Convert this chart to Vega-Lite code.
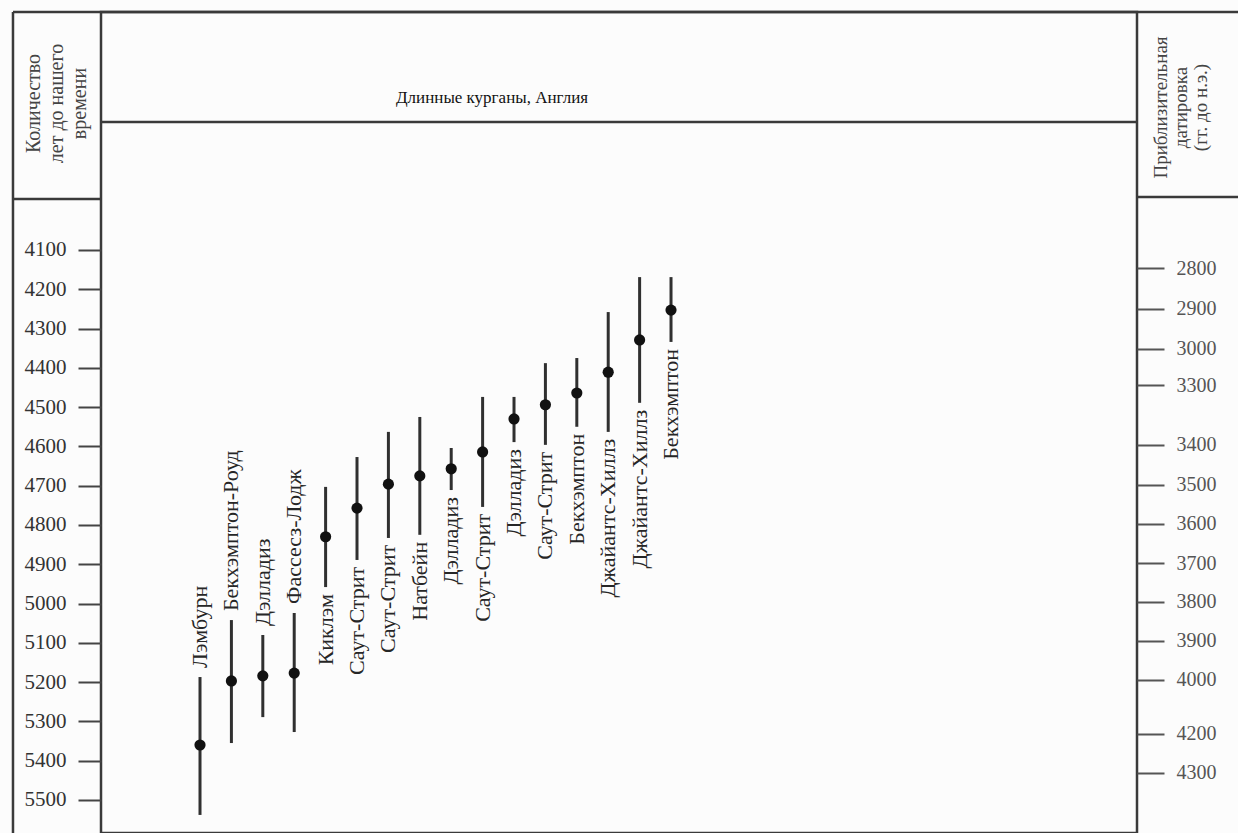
{
  "$schema": "https://vega.github.io/schema/vega-lite/v6.json",
  "width": 1036,
  "height": 821,
  "autosize": {"type": "none"},
  "padding": {"left": 101, "top": 12, "right": 101, "bottom": 0},
  "background": "#fcfcfc",
  "config": {
    "view": {"stroke": "#3a3a3a", "strokeWidth": 2.5},
    "font": "Liberation Serif"
  },
  "datasets": {
    "barrows": [
      {"order": 1, "name": "Лэмбурн", "lo": 5187, "est": 5360, "hi": 5538},
      {"order": 2, "name": "Бекхэмптон-Роуд", "lo": 5042, "est": 5197, "hi": 5355},
      {"order": 3, "name": "Дэлладиз", "lo": 5080, "est": 5184, "hi": 5289},
      {"order": 4, "name": "Фассесз-Лодж", "lo": 5024, "est": 5177, "hi": 5327},
      {"order": 5, "name": "Киклэм", "lo": 4703, "est": 4830, "hi": 4958},
      {"order": 6, "name": "Саут-Стрит", "lo": 4627, "est": 4757, "hi": 4889},
      {"order": 7, "name": "Саут-Стрит", "lo": 4563, "est": 4696, "hi": 4833},
      {"order": 8, "name": "Натбейн", "lo": 4525, "est": 4675, "hi": 4825},
      {"order": 9, "name": "Дэлладиз", "lo": 4604, "est": 4657, "hi": 4711},
      {"order": 10, "name": "Саут-Стрит", "lo": 4474, "est": 4614, "hi": 4754},
      {"order": 11, "name": "Дэлладиз", "lo": 4474, "est": 4530, "hi": 4589},
      {"order": 12, "name": "Саут-Стрит", "lo": 4388, "est": 4494, "hi": 4596},
      {"order": 13, "name": "Бекхэмптон", "lo": 4375, "est": 4464, "hi": 4550},
      {"order": 14, "name": "Джайантс-Хиллз", "lo": 4258, "est": 4411, "hi": 4563},
      {"order": 15, "name": "Джайантс-Хиллз", "lo": 4169, "est": 4329, "hi": 4489},
      {"order": 16, "name": "Бекхэмптон", "lo": 4169, "est": 4253, "hi": 4334}
    ],
    "one": [{}]
  },
  "data": {"name": "barrows"},
  "layer": [
    {
      "mark": {"type": "rule", "color": "#303030", "strokeWidth": 3},
      "encoding": {
        "x": {"field": "order", "type": "quantitative", "scale": {"domain": [-2.153, 30.84], "nice": false, "zero": false}, "axis": null},
        "y": {
          "field": "lo", "type": "quantitative",
          "scale": {"domain": [3494.2, 5584], "reverse": true, "nice": false, "zero": false},
          "axis": {
            "orient": "left",
            "values": [4100, 4200, 4300, 4400, 4500, 4600, 4700, 4800, 4900, 5000, 5100, 5200, 5300, 5400, 5500],
            "format": "d",
            "grid": false,
            "domain": false,
            "labelFont": "Liberation Serif",
            "labelFontSize": 21,
            "labelColor": "#333333",
            "labelPadding": 12,
            "labelOverlap": false,
            "tickSize": 23,
            "tickWidth": 2,
            "tickColor": "#444444",
            "title": ["Количество", "лет до нашего", "времени"],
            "titleFont": "Liberation Serif",
            "titleFontSize": 20,
            "titleFontWeight": "normal",
            "titleColor": "#444444",
            "titleLineHeight": 23,
            "titleAngle": 270,
            "titleAlign": "center",
            "titleBaseline": "middle",
            "titleX": -68,
            "titleY": 91
          }
        },
        "y2": {"field": "hi"}
      }
    },
    {
      "mark": {"type": "point", "filled": true, "size": 125, "color": "#111111", "opacity": 1},
      "encoding": {
        "x": {"field": "order", "type": "quantitative", "axis": null},
        "y": {
          "field": "est", "type": "quantitative",
          "axis": {
            "orient": "right",
            "values": [4146, 4250, 4352, 4444, 4596, 4698, 4797, 4897, 4996, 5095, 5194, 5332, 5431],
            "labelExpr": "['2800','2900','3000','3300','3400','3500','3600','3700','3800','3900','4000','4200','4300'][indexof([4146,4250,4352,4444,4596,4698,4797,4897,4996,5095,5194,5332,5431], datum.value)]",
            "grid": false,
            "domain": false,
            "labelFont": "Liberation Serif",
            "labelFontSize": 20,
            "labelColor": "#555555",
            "labelPadding": 12,
            "labelOverlap": false,
            "tickSize": 27,
            "tickWidth": 2,
            "tickColor": "#555555",
            "title": ["Приблизительная", "датировка", "(гг. до н.э.)"],
            "titleFont": "Liberation Serif",
            "titleFontSize": 19,
            "titleFontWeight": "normal",
            "titleColor": "#444444",
            "titleLineHeight": 20,
            "titleAngle": 270,
            "titleAlign": "center",
            "titleBaseline": "middle",
            "titleX": 23,
            "titleY": 95
          }
        }
      }
    },
    {
      "transform": [{"filter": "datum.order <= 4"}],
      "mark": {"type": "text", "angle": 270, "align": "left", "baseline": "middle", "dx": 9, "fontSize": 22, "font": "Liberation Serif", "color": "#262626"},
      "encoding": {
        "x": {"field": "order", "type": "quantitative", "axis": null},
        "y": {"field": "lo", "type": "quantitative", "axis": null},
        "text": {"field": "name"}
      }
    },
    {
      "transform": [{"filter": "datum.order > 4"}],
      "mark": {"type": "text", "angle": 270, "align": "right", "baseline": "middle", "dx": -7, "fontSize": 22, "font": "Liberation Serif", "color": "#262626"},
      "encoding": {
        "x": {"field": "order", "type": "quantitative", "axis": null},
        "y": {"field": "hi", "type": "quantitative", "axis": null},
        "text": {"field": "name"}
      }
    },
    {
      "data": {"name": "one"},
      "mark": {"type": "text", "align": "center", "baseline": "alphabetic", "fontSize": 17, "font": "Liberation Serif", "color": "#111111"},
      "encoding": {
        "x": {"datum": 10.3, "type": "quantitative", "axis": null},
        "y": {"datum": 3726, "type": "quantitative", "axis": null},
        "text": {"value": "Длинные курганы, Англия"}
      }
    },
    {
      "data": {"name": "one"},
      "mark": {"type": "rule", "color": "#3a3a3a", "strokeWidth": 2.5},
      "encoding": {
        "y": {"datum": 3774, "type": "quantitative", "axis": null}
      }
    },
    {
      "data": {"name": "one"},
      "mark": {"type": "rule", "color": "#3a3a3a", "strokeWidth": 2.5},
      "encoding": {
        "x": {"datum": -4.956, "type": "quantitative", "axis": null},
        "y": {"datum": 3494.2, "type": "quantitative", "axis": null},
        "y2": {"datum": 5584}
      }
    },
    {
      "data": {"name": "one"},
      "mark": {"type": "rule", "color": "#3a3a3a", "strokeWidth": 2.5},
      "encoding": {
        "x": {"datum": -4.956, "type": "quantitative", "axis": null},
        "x2": {"datum": 34.1},
        "y": {"datum": 3494.2, "type": "quantitative", "axis": null}
      }
    },
    {
      "data": {"name": "one"},
      "mark": {"type": "rule", "color": "#3a3a3a", "strokeWidth": 2.5},
      "encoding": {
        "x": {"datum": -4.956, "type": "quantitative", "axis": null},
        "x2": {"datum": -2.153},
        "y": {"datum": 3970, "type": "quantitative", "axis": null}
      }
    },
    {
      "data": {"name": "one"},
      "mark": {"type": "rule", "color": "#3a3a3a", "strokeWidth": 2.5},
      "encoding": {
        "x": {"datum": 30.84, "type": "quantitative", "axis": null},
        "x2": {"datum": 34.1},
        "y": {"datum": 3965, "type": "quantitative", "axis": null}
      }
    }
  ],
  "resolve": {"axis": {"y": "independent"}}
}
